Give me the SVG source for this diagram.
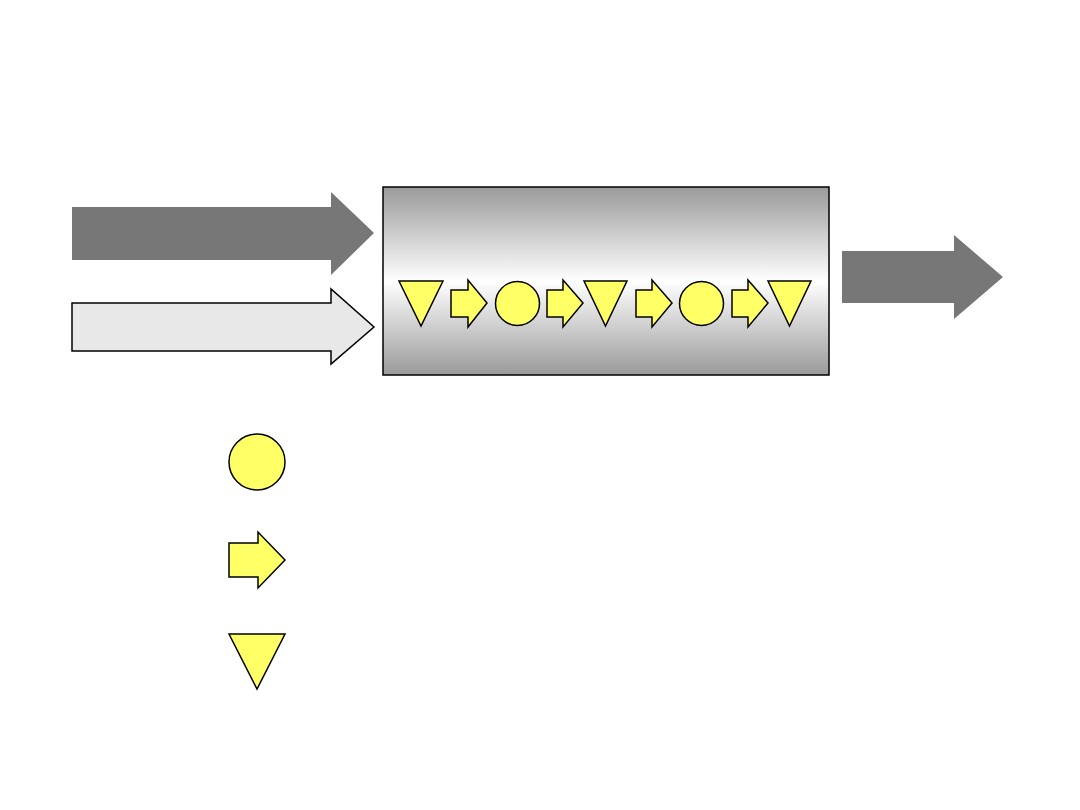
<svg xmlns="http://www.w3.org/2000/svg" width="1080" height="810" viewBox="0 0 1080 810">
<defs>
<linearGradient id="g" x1="0" y1="0" x2="0" y2="1">
<stop offset="0" stop-color="#9a9a9a"/>
<stop offset="0.5" stop-color="#ffffff"/>
<stop offset="1" stop-color="#9a9a9a"/>
</linearGradient>
<style>
.y{fill:#ffff66;stroke:#000;stroke-width:1.5;stroke-linejoin:miter}
.dk{fill:#777777;stroke:none}
.lt{fill:#e8e8e8;stroke:#000;stroke-width:1.5}
</style>
</defs>
<rect width="1080" height="810" fill="#fff"/>
<g id="input-arrow-1"><polygon class="dk" points="72,207 331,207 331,192 374,233 331,275 331,260 72,260"/></g>
<g id="input-arrow-2"><polygon class="lt" points="72,303 331,303 331,289 374,327 331,364 331,351 72,351"/></g>
<g id="process-box">
<rect x="383" y="187" width="446" height="188" fill="url(#g)" stroke="#000" stroke-width="1.5"/>
<polygon class="y" points="399,281 443,281 421,326"/>
<polygon class="y" points="451,290 468,290 468,280 487,303 468,327 468,317 451,317"/>
<circle class="y" cx="517.5" cy="303.5" r="22"/>
<polygon class="y" points="547,290 563,290 563,280 583,303 563,327 563,317 547,317"/>
<polygon class="y" points="584,281 627,281 605.5,326"/>
<polygon class="y" points="636,290 652,290 652,280 672,303 652,327 652,317 636,317"/>
<circle class="y" cx="701.5" cy="303.5" r="22"/>
<polygon class="y" points="732,290 748,290 748,280 768,303 748,327 748,317 732,317"/>
<polygon class="y" points="768,281 811,281 789.5,326"/>
</g>
<g id="output-arrow"><polygon class="dk" points="842,251 954,251 954,235 1003,277 954,319 954,303 842,303"/></g>
<g id="legend-circle"><circle class="y" cx="257" cy="462" r="28"/></g>
<g id="legend-arrow"><polygon class="y" points="229,543 258,543 258,532 285,560 258,588 258,577 229,577"/></g>
<g id="legend-triangle"><polygon class="y" points="229,634 285,634 257,689"/></g>
<g id="connectors"></g>
</svg>
